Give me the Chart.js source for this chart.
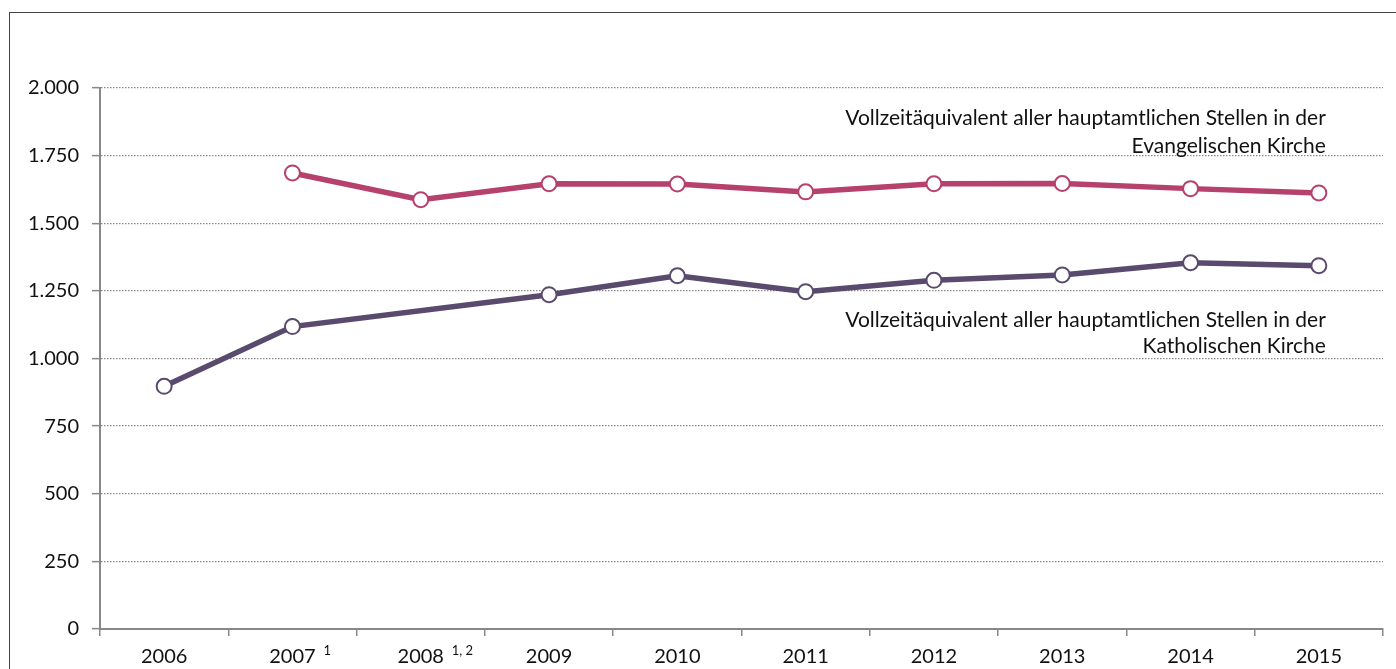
<!DOCTYPE html>
<html>
<head>
<meta charset="utf-8">
<script src="https://cdn.jsdelivr.net/npm/chart.js@4"></script>
<style>
  html, body { margin: 0; padding: 0; background: #fff; overflow: hidden; }
  #frame { position: absolute; left: 9px; top: 12px; width: 1400px; height: 700px; border: 1px solid #444; }
  #wrap { position: absolute; left: 0; top: 0; width: 1396px; height: 669px; }
</style>
</head>
<body>
<div id="frame"></div>
<div id="wrap"><canvas id="chart"></canvas></div>
<script>
// Daten
var years = ["2006", "2007", "2008", "2009", "2010", "2011", "2012", "2013", "2014", "2015"];
var footnotes = ["", "1", "1, 2", "", "", "", "", "", "", ""];
var evangelisch = [null, 1686, 1587, 1646, 1645, 1616, 1646, 1647, 1628, 1612];
var katholisch = [897, 1118, null, 1236, 1306, 1247, 1289, 1309, 1354, 1343];
var yTicks = [0, 250, 500, 750, 1000, 1250, 1500, 1750, 2000];

// Beschriftungen der Linien (rechtsbündig, Höhe als y-Wert)
var labelLines = [
  { text: "Vollzeitäquivalent aller hauptamtlichen Stellen in der", y: 1889 },
  { text: "Evangelischen Kirche", y: 1786 },
  { text: "Vollzeitäquivalent aller hauptamtlichen Stellen in der", y: 1140 },
  { text: "Katholischen Kirche", y: 1044 },
];

var FONT = "Lato";
var pink = "#b5416c";
var purple = "#5a4a6e";

function fmt(v) {
  return String(v).replace(/\B(?=(\d{3})+(?!\d))/g, ".");
}

var textPlugin = {
  id: "texte",
  afterDraw: function (chart) {
    var ctx = chart.ctx;
    var x = chart.scales.x;
    var y = chart.scales.y;
    ctx.save();
    ctx.fillStyle = "#111";
    ctx.font = "21px " + FONT;
    ctx.textAlign = "right";
    ctx.textBaseline = "middle";
    var right = x.getPixelForValue(9) + 7;
    labelLines.forEach(function (l) {
      ctx.fillText(l.text, right, y.getPixelForValue(l.y));
    });
    // Fußnoten an den Jahreszahlen
    ctx.font = "13px " + FONT;
    ctx.textAlign = "left";
    ctx.textBaseline = "alphabetic";
    footnotes.forEach(function (f, i) {
      if (!f) return;
      ctx.fillText(f, x.getPixelForValue(i) + 31, chart.chartArea.bottom + 26);
    });
    ctx.restore();
  },
};

new Chart(document.getElementById("chart"), {
  type: "line",
  data: {
    labels: years,
    datasets: [
      {
        label: "Evangelische Kirche",
        data: evangelisch,
        borderColor: pink,
        borderWidth: 5.5,
        pointRadius: 7.5,
        pointBorderWidth: 2,
        pointBackgroundColor: "#fff",
        pointBorderColor: pink,
        spanGaps: true,
        tension: 0,
      },
      {
        label: "Katholische Kirche",
        data: katholisch,
        borderColor: purple,
        borderWidth: 5.5,
        pointRadius: 7.5,
        pointBorderWidth: 2,
        pointBackgroundColor: "#fff",
        pointBorderColor: purple,
        spanGaps: true,
        tension: 0,
      },
    ],
  },
  options: {
    responsive: true,
    maintainAspectRatio: false,
    animation: false,
    layout: { padding: { top: 88, right: 13, left: 0, bottom: 0 } },
    plugins: { legend: { display: false }, tooltip: { enabled: false } },
    scales: {
      x: {
        offset: true,
        grid: { offset: true, drawOnChartArea: false, drawTicks: true, tickLength: 7, color: "#888", lineWidth: 1.5 },
        border: { color: "#888", width: 2 },
        ticks: { color: "#111", font: { family: FONT, size: 20 }, padding: 9, maxRotation: 0, autoSkip: false },
        afterFit: function (s) { s.height = 40; },
      },
      y: {
        min: 0,
        max: 2000,
        afterBuildTicks: function (s) { s.ticks = yTicks.map(function (v) { return { value: v }; }); },
        grid: { color: "#8a8a8a", lineWidth: 1.3, tickLength: 8, tickColor: "#888", tickWidth: 1.5 },
        border: { color: "#888", width: 2, dash: [1.5, 1.5] },
        ticks: { color: "#111", font: { family: FONT, size: 20 }, padding: 13, callback: function (v) { return fmt(v); } },
        afterFit: function (s) { s.width = 100; },
      },
    },
  },
  plugins: [textPlugin],
});
</script>
</body>
</html>
